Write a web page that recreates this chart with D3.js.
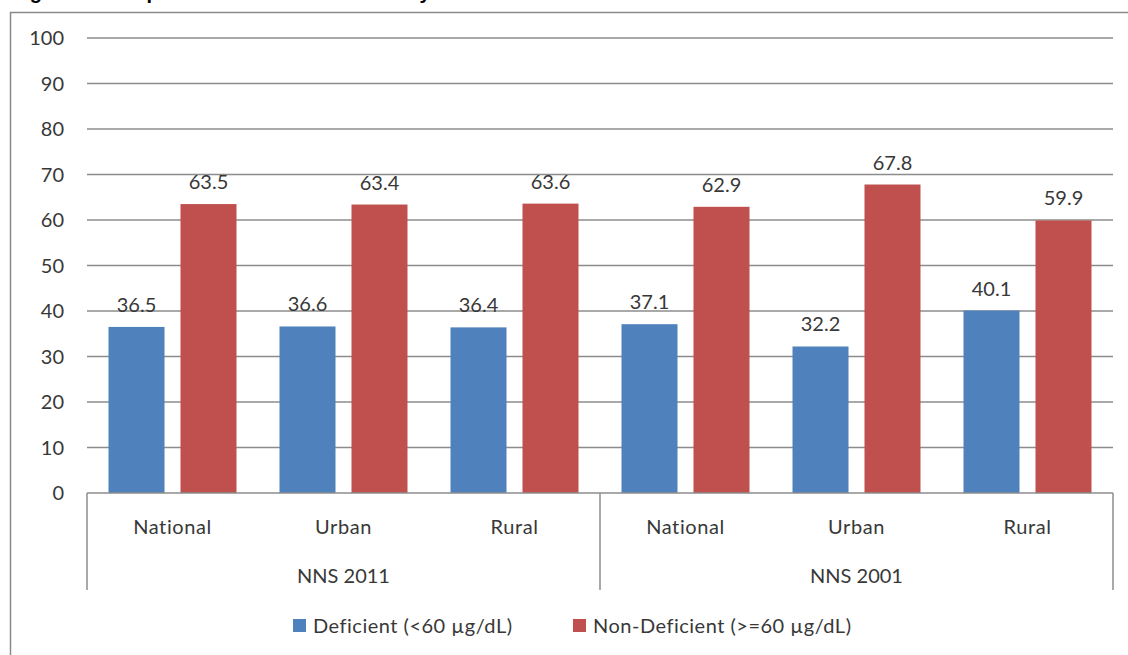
<!DOCTYPE html>
<html>
<head>
<meta charset="utf-8">
<script src="https://cdn.jsdelivr.net/npm/d3@7"></script>
<style>
  html, body { margin: 0; padding: 0; background: #fff; }
  svg { display: block; }
  text { font-family: Lato, "Open Sans", sans-serif; fill: #383838; }
</style>
</head>
<body>
<div id="chart"></div>
<script>
// data
const surveys = ['NNS 2011', 'NNS 2001'];
const areas = ['National', 'Urban', 'Rural'];
const seriesNames = ['Deficient (<60 \u00b5g/dL)', 'Non-Deficient (>=60 \u00b5g/dL)'];
const deficient = [36.5, 36.6, 36.4, 37.1, 32.2, 40.1];
const nonDeficient = [63.5, 63.4, 63.6, 62.9, 67.8, 59.9];
const yTicks = [0, 10, 20, 30, 40, 50, 60, 70, 80, 90, 100];
const colors = ['#4f81bd', '#c0504d'];

const W = 1128, H = 655;
const plotL = 87, plotR = 1113, plotT = 38, plotB = 493;
const fs = '20px';

const svg = d3.select('#chart').append('svg')
  .attr('width', W).attr('height', H);

// title sits above the frame, only its descenders show
svg.append('text')
  .attr('x', 12).attr('y', -1)
  .style('font-family', 'Liberation Sans, Arial, sans-serif')
  .style('font-weight', 'bold').style('font-size', '20px').style('fill', '#000')
  .text('Figure 5: Comparison of vitamin A status by area');

// chart frame
svg.append('rect')
  .attr('x', 10.5).attr('y', 12.5)
  .attr('width', W + 20).attr('height', H + 20)
  .attr('fill', 'none').attr('stroke', '#8a8a8a').attr('stroke-width', 1.5);

// categories: one slot per survey/area pair
const cats = [];
surveys.forEach(s => areas.forEach(a => cats.push(s + '|' + a)));
const rows = cats.map((c, i) => ({ key: c, values: [deficient[i], nonDeficient[i]] }));

const x0 = d3.scaleBand().domain(cats).range([plotL, plotR]);
const x1 = d3.scaleBand().domain([0, 1])
  .range([21.5, x0.bandwidth() - 21.5]).paddingInner(0.222);
const y = d3.scaleLinear().domain([0, 100]).range([plotB, plotT]);

// gridlines
svg.append('g')
  .selectAll('line').data(yTicks.filter(d => d > 0)).join('line')
    .attr('x1', plotL).attr('x2', plotR)
    .attr('y1', d => y(d)).attr('y2', d => y(d))
    .attr('stroke', '#8c8c8c').attr('stroke-width', 1.5);

// y tick labels
svg.append('g')
  .selectAll('text').data(yTicks).join('text')
    .attr('x', 64).attr('y', d => y(d))
    .attr('dy', '0.35em').attr('text-anchor', 'end')
    .style('font-size', fs)
    .text(d => d);

// bars
const grp = svg.append('g').selectAll('g').data(rows).join('g')
  .attr('transform', d => `translate(${x0(d.key)},0)`);
grp.selectAll('rect').data(d => d.values).join('rect')
  .attr('x', (d, i) => x1(i))
  .attr('width', x1.bandwidth())
  .attr('y', d => y(d))
  .attr('height', d => plotB - y(d))
  .attr('fill', (d, i) => colors[i]);
grp.selectAll('text').data(d => d.values).join('text')
  .attr('x', (d, i) => x1(i) + x1.bandwidth() / 2)
  .attr('y', d => y(d) - 15)
  .attr('text-anchor', 'middle')
  .style('font-size', fs)
  .text(d => d.toFixed(1));

// category axis with group dividers
const axis = svg.append('g');
axis.append('line')
  .attr('x1', plotL).attr('x2', plotR).attr('y1', plotB).attr('y2', plotB)
  .attr('stroke', '#8c8c8c').attr('stroke-width', 1.5);
[0, 3, 6].forEach(i => {
  const xx = i < 6 ? x0(cats[i]) : plotR;
  axis.append('line')
    .attr('x1', xx).attr('x2', xx).attr('y1', plotB).attr('y2', 590)
    .attr('stroke', '#8c8c8c').attr('stroke-width', 1.5);
});
axis.selectAll('text.area').data(cats).join('text')
  .attr('class', 'area')
  .attr('x', d => x0(d) + x0.bandwidth() / 2)
  .attr('y', 527).attr('dy', '0.35em')
  .attr('text-anchor', 'middle')
  .style('font-size', fs).style('letter-spacing', '0.6px')
  .text(d => d.split('|')[1]);
axis.selectAll('text.survey').data(surveys).join('text')
  .attr('class', 'survey')
  .attr('x', d => x0(d + '|' + areas[1]) + x0.bandwidth() / 2)
  .attr('y', 576).attr('dy', '0.35em')
  .attr('text-anchor', 'middle')
  .style('font-size', fs)
  .text(d => d);

// legend
const legendX = [293, 573];
const lg = svg.append('g').selectAll('g').data(seriesNames).join('g')
  .attr('transform', (d, i) => `translate(${legendX[i]},626)`);
lg.append('rect')
  .attr('x', 0).attr('y', -7).attr('width', 13).attr('height', 13)
  .attr('fill', (d, i) => colors[i]);
lg.append('text')
  .attr('x', 20).attr('dy', '0.35em')
  .style('font-size', fs).style('letter-spacing', '0.5px')
  .text(d => d);
</script>
</body>
</html>
